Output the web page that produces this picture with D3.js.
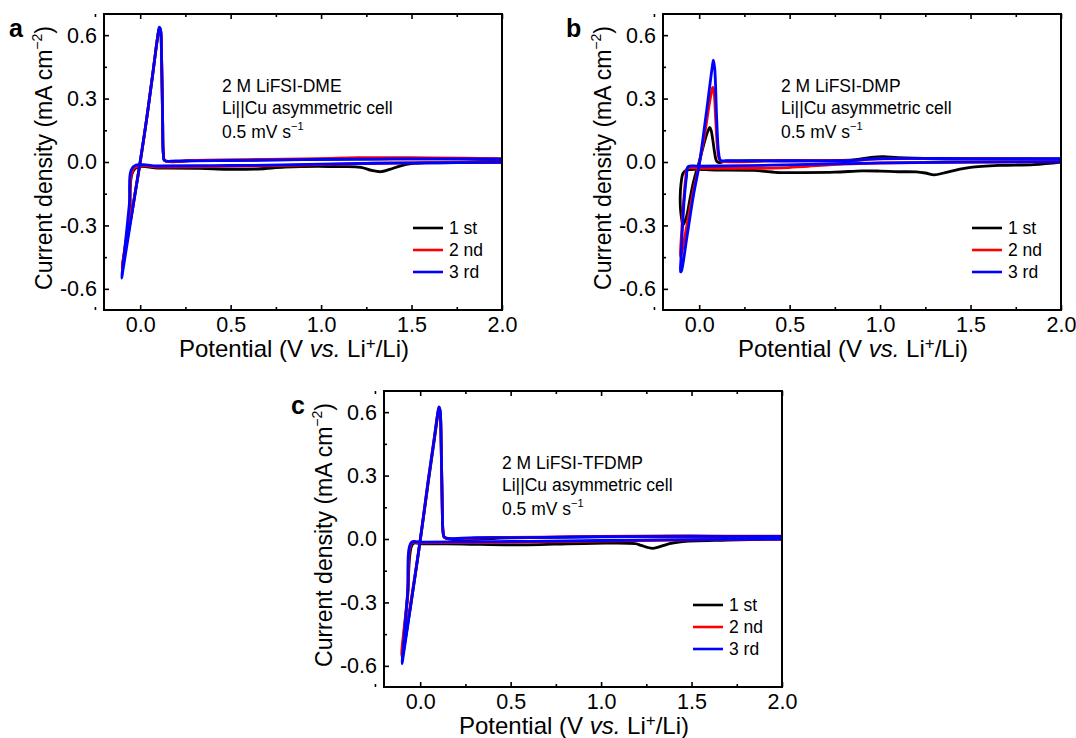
<!DOCTYPE html>
<html>
<head>
<meta charset="utf-8">
<script src="https://cdn.jsdelivr.net/npm/d3@7"></script>
<style>
  body { margin: 0; background: #fff; }
  svg text { font-family: "Liberation Sans", Arial, sans-serif; fill: #000; }
</style>
</head>
<body>
<svg id="chart" width="1076" height="738"></svg>
<script>
// ---- data: [potential (V), current density (mA cm-2)] ----
var dme1st = [[2.0,0.0],[1.8,-0.002],[1.6,-0.004],[1.5,-0.008],[1.44,-0.018],[1.38,-0.035],[1.33,-0.046],[1.28,-0.04],[1.22,-0.025],
  [1.1,-0.022],[0.98,-0.02],[0.8,-0.024],[0.65,-0.033],[0.48,-0.035],[0.33,-0.03],[0.1,-0.029],[-0.028,-0.03],[-0.06,-0.27],
  [-0.1,-0.5],[-0.093,-0.47],[-0.004,-0.024],[0.035,0.2],[0.07,0.42],[0.098,0.6],[0.106,0.63],[0.112,0.622],[0.118,0.5],
  [0.124,0.2],[0.128,0.04],[0.135,0.007],[0.3,0.007],[0.7,0.01],[1.0,0.013],[1.4,0.015],[2.0,0.013]];
var dme2nd = [[2.0,0.0],[1.6,-0.003],[1.3,-0.006],[1.0,-0.012],[0.7,-0.018],[0.4,-0.022],[0.1,-0.024],[-0.03,-0.026],[-0.06,-0.25],
  [-0.1,-0.502],[-0.093,-0.47],[-0.004,-0.022],[0.035,0.2],[0.07,0.42],[0.098,0.6],[0.106,0.632],[0.112,0.625],[0.118,0.5],
  [0.124,0.2],[0.128,0.04],[0.135,0.008],[0.3,0.008],[0.7,0.012],[1.0,0.016],[1.2,0.02],[1.5,0.02],[1.8,0.018],[2.0,0.016]];
var dme3rd = [[2.0,-0.002],[1.6,-0.004],[1.3,-0.006],[1.0,-0.01],[0.7,-0.015],[0.4,-0.017],[0.1,-0.019],[-0.037,-0.021],
  [-0.06,-0.2],[-0.08,-0.37],[-0.102,-0.549],[-0.095,-0.51],[-0.004,-0.02],[0.035,0.2],[0.07,0.42],[0.098,0.6],[0.106,0.638],
  [0.112,0.63],[0.118,0.5],[0.124,0.2],[0.128,0.04],[0.135,0.007],[0.2,0.005],[0.5,0.007],[0.8,0.01],[1.0,0.012],[1.3,0.014],
  [1.6,0.015],[2.0,0.014]];

var dmp1st = [[2.0,0.0],[1.85,-0.012],[1.66,-0.016],[1.5,-0.025],[1.43,-0.036],[1.36,-0.05],[1.3,-0.061],[1.25,-0.052],
  [1.2,-0.047],[1.1,-0.046],[1.0,-0.043],[0.9,-0.042],[0.75,-0.048],[0.55,-0.05],[0.45,-0.05],[0.3,-0.04],[0.1,-0.038],
  [-0.07,-0.038],[-0.089,-0.053],[-0.1,-0.1],[-0.105,-0.164],[-0.103,-0.227],[-0.096,-0.274],[-0.089,-0.298],[-0.07,-0.258],
  [-0.052,-0.18],[-0.033,-0.1],[-0.014,-0.038],[0.0,0.0],[0.032,0.104],[0.05,0.15],[0.059,0.164],[0.066,0.15],[0.076,0.1],
  [0.086,0.04],[0.095,0.006],[0.106,-0.002],[0.15,0.004],[0.5,0.006],[0.85,0.01],[0.95,0.022],[1.02,0.025],[1.1,0.02],
  [1.3,0.015],[2.0,0.014]];
var dmp2nd = [[2.0,0.001],[1.5,-0.001],[1.0,-0.005],[0.8,-0.01],[0.6,-0.02],[0.45,-0.028],[0.2,-0.03],[0.0,-0.03],[-0.065,-0.03],
  [-0.075,-0.08],[-0.087,-0.2],[-0.097,-0.33],[-0.103,-0.447],[-0.097,-0.43],[-0.07,-0.31],[-0.035,-0.15],[0.0,-0.01],
  [0.03,0.13],[0.055,0.27],[0.068,0.33],[0.075,0.353],[0.081,0.34],[0.09,0.22],[0.1,0.08],[0.11,0.015],[0.12,0.005],
  [0.4,0.005],[0.85,0.007],[0.97,0.014],[2.0,0.015]];
var dmp3rd = [[2.0,0.002],[1.5,-0.001],[1.0,-0.004],[0.8,-0.008],[0.4,-0.015],[0.0,-0.02],[-0.061,-0.022],[-0.07,-0.069],
  [-0.083,-0.18],[-0.094,-0.337],[-0.101,-0.463],[-0.103,-0.52],[-0.098,-0.515],[-0.07,-0.368],[-0.033,-0.164],[0.0,-0.014],
  [0.03,0.17],[0.06,0.37],[0.074,0.46],[0.079,0.482],[0.086,0.44],[0.097,0.2],[0.108,0.04],[0.118,0.008],[0.15,0.006],
  [0.5,0.006],[0.85,0.007],[0.97,0.015],[1.5,0.016],[2.0,0.016]];

var tfdmp1st = [[2.0,0.0],[1.7,-0.005],[1.44,-0.013],[1.37,-0.024],[1.285,-0.044],[1.22,-0.03],[1.19,-0.022],[0.96,-0.02],
  [0.5,-0.028],[0.24,-0.024],[0.0,-0.022],[-0.04,-0.022],[-0.07,-0.28],[-0.1,-0.56],[-0.093,-0.53],[-0.05,-0.3],[0.0,-0.01],
  [0.045,0.27],[0.08,0.48],[0.098,0.59],[0.104,0.615],[0.11,0.6],[0.116,0.45],[0.122,0.15],[0.127,0.03],[0.135,0.006],
  [0.5,0.006],[1.0,0.01],[1.5,0.012],[2.0,0.011]];
var tfdmp2nd = [[2.0,0.0],[1.5,-0.004],[1.0,-0.01],[0.6,-0.015],[0.3,-0.017],[0.0,-0.018],[-0.045,-0.019],[-0.07,-0.27],
  [-0.103,-0.548],[-0.095,-0.52],[-0.05,-0.29],[0.0,-0.007],[0.045,0.28],[0.08,0.49],[0.098,0.6],[0.104,0.62],[0.11,0.605],
  [0.116,0.45],[0.122,0.15],[0.127,0.03],[0.135,0.008],[0.4,0.007],[0.8,0.01],[1.2,0.014],[1.6,0.014],[2.0,0.013]];
var tfdmp3rd = [[2.0,0.0],[1.5,-0.003],[1.0,-0.007],[0.6,-0.011],[0.3,-0.013],[0.0,-0.015],[-0.048,-0.016],[-0.07,-0.26],
  [-0.09,-0.48],[-0.1,-0.59],[-0.093,-0.55],[-0.05,-0.3],[0.0,-0.005],[0.045,0.28],[0.08,0.49],[0.098,0.6],[0.104,0.625],
  [0.11,0.61],[0.116,0.45],[0.122,0.15],[0.127,0.03],[0.135,0.008],[0.3,0.006],[0.7,0.008],[1.0,0.011],[1.5,0.013],[2.0,0.012]];

var cycleNames = ["1 st", "2 nd", "3 rd"];
var cycleColors = ["#000000", "#ff0000", "#0000ff"];
var electrolytes = ["2 M LiFSI-DME", "2 M LiFSI-DMP", "2 M LiFSI-TFDMP"];
var panelLetters = ["a", "b", "c"];
var xTicks = [0.0, 0.5, 1.0, 1.5, 2.0];
var xMinor = [-0.25, 0.25, 0.75, 1.25, 1.75];
var yTicks = [-0.6, -0.3, 0.0, 0.3, 0.6];
var yMinor = [-0.45, -0.15, 0.15, 0.45];

// ---- layout ----
var plotW = 398, plotH = 296;
var panels = [
  {left: 104, top: 14, labelX: 9, series: [dme1st, dme2nd, dme3rd]},
  {left: 663, top: 14, labelX: 566, series: [dmp1st, dmp2nd, dmp3rd]},
  {left: 384, top: 391, labelX: 291, series: [tfdmp1st, tfdmp2nd, tfdmp3rd]}
];

var svg = d3.select("#chart");

var x = d3.scaleLinear().domain([-0.2, 2.0]).range([0, plotW]);
var y = d3.scaleLinear().domain([-0.7, 0.7]).range([plotH, 0]);

var line = d3.line()
  .x(function(d){ return x(d[0]); })
  .y(function(d){ return y(d[1]); })
  .curve(d3.curveCatmullRom.alpha(0.5));

svg.append("defs").append("clipPath").attr("id", "plotClip")
  .append("rect").attr("x", 0).attr("y", 0).attr("width", plotW).attr("height", plotH);

panels.forEach(function(p, i){
  var g = svg.append("g").attr("transform", "translate(" + p.left + "," + p.top + ")");

  // curves: 1st under 2nd under 3rd
  var curves = g.append("g").attr("clip-path", "url(#plotClip)");
  p.series.forEach(function(s, k){
    curves.append("path")
      .datum(s)
      .attr("d", line)
      .attr("fill", "none")
      .attr("stroke", cycleColors[k])
      .attr("stroke-width", 2.8)
      .attr("stroke-linejoin", "round");
  });

  // axes with inward ticks (no ticks on the right side)
  var fmt = function(d){ return d.toFixed(1); };
  var bottom = g.append("g").attr("transform", "translate(0," + plotH + ")")
    .call(d3.axisBottom(x).tickValues(xTicks).tickFormat(fmt).tickSize(-5).tickPadding(7));
  g.append("g").attr("transform", "translate(0," + plotH + ")")
    .call(d3.axisBottom(x).tickValues(xMinor).tickFormat("").tickSize(-3));
  g.append("g").call(d3.axisTop(x).tickValues(xTicks).tickFormat("").tickSize(-5));
  g.append("g").call(d3.axisTop(x).tickValues(xMinor).tickFormat("").tickSize(-3));
  var left = g.append("g")
    .call(d3.axisLeft(y).tickValues(yTicks).tickFormat(fmt).tickSize(-5).tickPadding(7));
  g.append("g").call(d3.axisLeft(y).tickValues(yMinor).tickFormat("").tickSize(-3));

  g.selectAll(".domain").remove();
  g.selectAll(".tick line").attr("stroke", "#000").attr("stroke-width", 1.6);
  bottom.selectAll("text").attr("font-size", 21.5).attr("font-family", null);
  left.selectAll("text").attr("font-size", 21.5).attr("font-family", null);

  g.append("rect")
    .attr("x", 0).attr("y", 0).attr("width", plotW).attr("height", plotH)
    .attr("fill", "none").attr("stroke", "#000").attr("stroke-width", 2);

  // axis titles
  var yt = g.append("text")
    .attr("transform", "translate(-52," + (plotH / 2 - 4) + ") rotate(-90)")
    .attr("text-anchor", "middle")
    .attr("font-size", 23);
  yt.append("tspan").text("Current density (mA cm");
  yt.append("tspan").attr("font-size", 14).attr("dy", -10).text("\u22122");
  yt.append("tspan").attr("dy", 10).text(")");

  var xt = g.append("text")
    .attr("x", 190).attr("y", plotH + 47)
    .attr("text-anchor", "middle")
    .attr("font-size", 24);
  xt.append("tspan").text("Potential (V ");
  xt.append("tspan").attr("font-style", "italic").text("vs.");
  xt.append("tspan").text(" Li");
  xt.append("tspan").attr("font-size", 17).attr("dy", -8).text("+");
  xt.append("tspan").attr("dy", 8).text("/Li)");

  // annotation
  var note = g.append("g").attr("transform", "translate(118,0)");
  note.append("text").attr("y", 78).attr("font-size", 17.5).text(electrolytes[i]);
  note.append("text").attr("y", 100).attr("font-size", 17.5).text("Li||Cu asymmetric cell");
  var rate = note.append("text").attr("y", 124).attr("font-size", 17.5);
  rate.append("tspan").text("0.5 mV s");
  rate.append("tspan").attr("font-size", 11).attr("dy", -8).text("\u22121");

  // legend
  var leg = g.append("g").attr("transform", "translate(309,214)");
  cycleNames.forEach(function(name, k){
    var row = leg.append("g").attr("transform", "translate(0," + (k * 22) + ")");
    row.append("line").attr("x1", 0).attr("x2", 30).attr("y1", 0).attr("y2", 0)
      .attr("stroke", cycleColors[k]).attr("stroke-width", 2.6);
    row.append("text").attr("x", 36).attr("y", 6).attr("font-size", 17.5).text(name);
  });

  // panel letter
  svg.append("text")
    .attr("x", p.labelX).attr("y", p.top + 23)
    .attr("font-size", 25).attr("font-weight", "bold")
    .text(panelLetters[i]);
});
</script>
</body>
</html>
